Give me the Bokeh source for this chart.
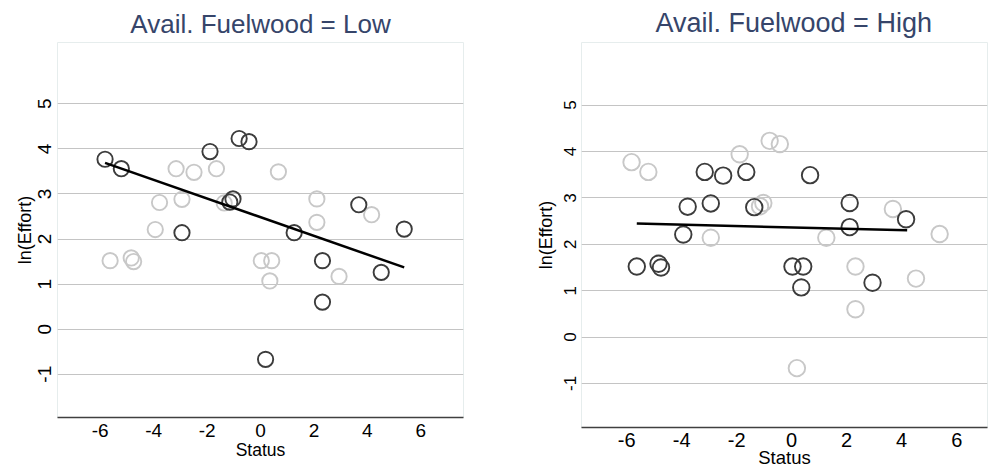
from bokeh.plotting import figure
from bokeh.layouts import row
from bokeh.models import Range1d, FixedTicker
from bokeh.embed import file_html
from bokeh.resources import INLINE

# ---- data ----
status_low = [-5.82, -5.21, -1.89, -0.80, -0.43, -1.03, -1.15, -2.94, 1.26, 3.68, 5.38, 2.32, 4.52, 2.32, 0.19]
effort_low = [3.77, 3.56, 3.94, 4.23, 4.16, 2.89, 2.82, 2.14, 2.14, 2.76, 2.22, 1.52, 1.26, 0.60, -0.67]

status_high = [-5.63, -4.84, -4.75, -3.94, -3.78, -2.94, -3.16, -2.49, -1.65, -1.36, 0.67, 0.03, 0.42, 0.35, 2.11, 2.11, 2.94, 4.16]
effort_high = [1.52, 1.58, 1.50, 2.21, 2.81, 2.88, 3.56, 3.48, 3.56, 2.80, 3.49, 1.52, 1.52, 1.07, 2.89, 2.37, 1.17, 2.54]

fit_low_x = [-5.82, 5.38]
fit_low_y = [3.69, 1.37]
fit_high_x = [-5.63, 4.20]
fit_high_y = [2.45, 2.30]

x_ticks = [-6, -4, -2, 0, 2, 4, 6]
x_tick_labels = ["-6", "-4", "-2", "0", "2", "4", "6"]
y_ticks = [-1, 0, 1, 2, 3, 4, 5]
y_tick_labels = ["-1", "0", "1", "2", "3", "4", "5"]

titles = ["Avail. Fuelwood = Low", "Avail. Fuelwood = High"]
x_label = "Status"
y_label = "ln(Effort)"

FONT = "Liberation Sans"
DARK = "#3c3c3c"
LIGHT = "#c8c8c8"
TITLE_COLOR = "#36456a"


def make_panel(title, dark_x, dark_y, light_x, light_y, fit_x, fit_y,
               xr, yr, fw, fh, ml, mr, mt, size, align, offset, st):
    p = figure(frame_width=fw, frame_height=fh,
               x_range=Range1d(*xr), y_range=Range1d(*yr),
               output_backend="svg", toolbar_location=None,
               min_border_left=ml, min_border_right=mr,
               min_border_top=mt, min_border_bottom=0)
    p.background_fill_color = "white"
    p.border_fill_color = "white"
    p.outline_line_color = "#e6eded"

    p.scatter(light_x, light_y, size=size, marker="circle", fill_color=None,
              line_color=LIGHT, line_width=1.9)
    p.scatter(dark_x, dark_y, size=size, marker="circle", fill_color=None,
              line_color=DARK, line_width=1.9)
    p.line(fit_x, fit_y, line_color="black", line_width=2.5)

    p.title.text = title
    p.title.text_font = FONT
    p.title.text_font_size = st["title"]
    p.title.text_font_style = "normal"
    p.title.text_color = TITLE_COLOR
    p.title.align = align
    p.title.offset = offset
    p.title.standoff = st["title_standoff"]

    p.xaxis.ticker = FixedTicker(ticks=x_ticks)
    p.yaxis.ticker = FixedTicker(ticks=y_ticks)
    p.xaxis.major_label_overrides = dict(zip(x_ticks, x_tick_labels))
    p.yaxis.major_label_overrides = dict(zip(y_ticks, y_tick_labels))
    p.axis.major_tick_line_color = None
    p.axis.minor_tick_line_color = None
    p.axis.major_tick_out = 0
    p.axis.major_tick_in = 0
    p.axis.minor_tick_out = 0
    p.axis.minor_tick_in = 0
    p.axis.major_label_text_font = FONT
    p.axis.major_label_text_color = "black"
    p.axis.axis_label_text_font = FONT
    p.axis.axis_label_text_font_style = "normal"
    p.axis.axis_label_text_color = "black"

    p.xaxis.axis_label = x_label
    p.xaxis.axis_line_color = "#404040"
    p.xaxis.axis_line_width = 1.5
    p.xaxis.major_label_text_font_size = st["xtick"]
    p.xaxis.axis_label_text_font_size = st["xlab"]
    p.xaxis.major_label_standoff = st["xtick_standoff"]
    p.xaxis.axis_label_standoff = st["xlab_standoff"]

    p.yaxis.axis_label = y_label
    p.yaxis.axis_line_color = None
    p.yaxis.major_label_orientation = "vertical"
    p.yaxis.major_label_text_font_size = st["ytick"]
    p.yaxis.axis_label_text_font_size = st["ylab"]
    p.yaxis.major_label_standoff = st["ytick_standoff"]
    p.yaxis.axis_label_standoff = st["ylab_standoff"]

    p.xgrid.grid_line_color = None
    p.ygrid.grid_line_color = "#c4c4c4"
    p.ygrid.grid_line_width = 1
    return p


style_left = dict(title="26px", title_standoff=8, xtick="19px", xlab="17.5px",
                  xtick_standoff=6, xlab_standoff=0, ytick="19px", ylab="18px",
                  ytick_standoff=6, ylab_standoff=1)
style_right = dict(title="27px", title_standoff=9, xtick="20px", xlab="18.5px",
                   xtick_standoff=5, xlab_standoff=-3, ytick="17px", ylab="18px",
                   ytick_standoff=5, ylab_standoff=6)

p1 = make_panel(titles[0], status_low, effort_low, status_high, effort_high,
                fit_low_x, fit_low_y, (-7.6, 7.6), (-1.96, 6.36),
                406, 375, 57, 67, 42, 15.3, "center", 0, style_left)
p2 = make_panel(titles[1], status_high, effort_high, status_low, effort_low,
                fit_high_x, fit_high_y, (-7.64, 7.12), (-1.95, 6.35),
                406, 385, 51, 1, 41, 16.5, "left", 74, style_right)

layout = row(p1, p2)
open("out.html", "w").write(file_html(layout, INLINE))
